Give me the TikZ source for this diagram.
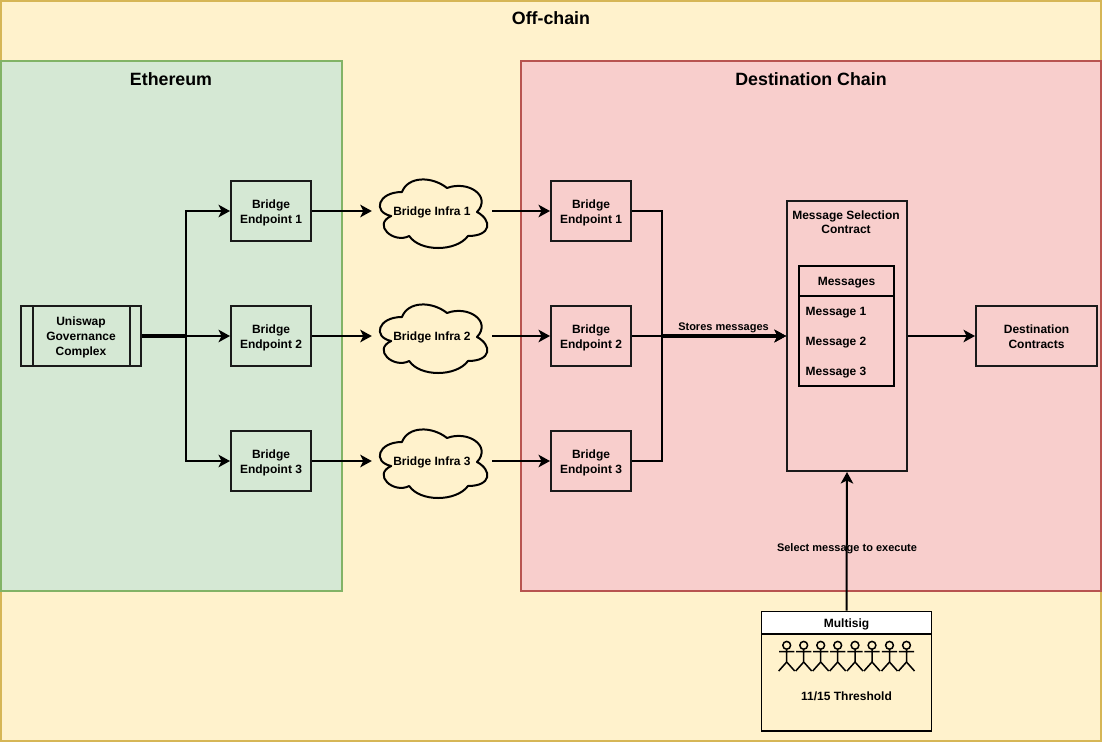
\documentclass[tikz,border=0pt]{standalone}
\usepackage{fontspec}
\setmainfont{Liberation Sans}
\usetikzlibrary{arrows.meta}
\definecolor{yfill}{HTML}{FFF2CC}\definecolor{ydraw}{HTML}{D6B656}
\definecolor{gfill}{HTML}{D5E8D4}\definecolor{gdraw}{HTML}{82B366}
\definecolor{rfill}{HTML}{F8CECC}\definecolor{rdraw}{HTML}{B85450}
\definecolor{ink}{HTML}{1A1A1A}
\tikzset{
  x=1pt,y=-1pt,
  title/.style={font=\fontsize{17.8}{21}\selectfont\bfseries,inner sep=0pt},
  labelfont/.style={font=\fontsize{12}{15}\selectfont\bfseries,align=center,inner sep=0pt},
  smallfont/.style={font=\fontsize{11}{13}\selectfont\bfseries,align=center,inner sep=0pt},
  boxst/.style={draw=ink,line width=2pt,minimum width=80pt,minimum height=60pt,labelfont,text height=25.2pt,text depth=0pt},
  arrowst/.style={draw=black,line width=2pt,-{Stealth[length=11.5pt,width=12.5pt,inset=3pt]}},
  mergeline/.style={draw=black,line width=3.1pt},
  cloudbox/.style={minimum width=120pt,minimum height=80pt,labelfont,text depth=0pt},
  thinbox/.style={draw=black,line width=1.8pt},
  actor/.style={draw=black,line width=1.5pt}
}
\newcommand{\cloudshape}[2]{%
  \draw[draw=black,line width=2pt,line join=round,shift={(#1,#2)}]
  (30,20) .. controls (6,20) and (0,40) .. (19.2,44)
  .. controls (0,52.8) and (21.6,72) .. (37.2,64)
  .. controls (48,80) and (84,80) .. (96,64)
  .. controls (120,64) and (120,48) .. (105,40)
  .. controls (120,24) and (96,8) .. (75,16)
  .. controls (60,4) and (36,4) .. (30,20) -- cycle;}
\newcommand{\actorfig}[1]{%
  \draw[actor,shift={(#1,0)}] (0,645.3) circle (3.9pt)
    (0,649.2) -- (0,662) (-7.6,651.7) -- (7.6,651.7)
    (0,662) -- (-8,671) (0,662) -- (8,671);}
\begin{document}
\begin{tikzpicture}
\useasboundingbox (0,0) rectangle (1102,742);
% zones
\filldraw[fill=yfill,draw=ydraw,line width=2pt] (1,1) rectangle (1101,741);
\node[title] (tOff) at (551,18.5) {Off-chain};
\filldraw[fill=gfill,draw=gdraw,line width=2pt] (1,61) rectangle (341.5,591);
\node[title] (tEth) at (171,79.5) {Ethereum};
\filldraw[fill=rfill,draw=rdraw,line width=2pt] (521,61) rectangle (1101,591);
\node[title] (tDst) at (811,79.5) {Destination Chain};
% governance
\node[boxst,minimum width=120pt,text height=38.8pt] (gov) at (81,336) {Uniswap\\Governance\\Complex};
\draw[draw=ink,line width=2pt] ([xshift=12.5pt]gov.north west) -- ([xshift=12.5pt]gov.south west);
\draw[draw=ink,line width=2pt] ([xshift=-12.5pt]gov.north east) -- ([xshift=-12.5pt]gov.south east);
% endpoints left
\node[boxst] (la) at (271,211) {Bridge\\Endpoint 1};
\node[boxst] (lb) at (271,336) {Bridge\\Endpoint 2};
\node[boxst] (lc) at (271,461) {Bridge\\Endpoint 3};
% clouds
\cloudshape{372}{172}\node[cloudbox] (ca) at (432,211) {Bridge Infra 1};
\cloudshape{372}{297}\node[cloudbox] (cb) at (432,336) {Bridge Infra 2};
\cloudshape{372}{422}\node[cloudbox] (cc) at (432,461) {Bridge Infra 3};
% endpoints right
\node[boxst] (ra) at (591,211) {Bridge\\Endpoint 1};
\node[boxst] (rb) at (591,336) {Bridge\\Endpoint 2};
\node[boxst] (rc) at (591,461) {Bridge\\Endpoint 3};
% contract
\node[draw=ink,line width=2pt,minimum width=120pt,minimum height=270pt] (msc) at (847,336) {};
\node[font=\fontsize{12}{14.5}\selectfont\bfseries,align=center,inner sep=0pt,anchor=north] (msct) at (846,210.5) {Message Selection\\Contract};
\node[thinbox,minimum width=95pt,minimum height=30pt,labelfont,text height=9pt,text depth=0pt] (mh) at (846.5,281) {Messages};
\node[thinbox,minimum width=95pt,minimum height=90pt] (mb) at (846.5,341) {};
\node[labelfont,anchor=west] (m1) at (805.5,312.5) {Message 1};
\node[labelfont,anchor=west] (m2) at (805.5,342.5) {Message 2};
\node[labelfont,anchor=west] (m3) at (805.5,372.5) {Message 3};
\node[boxst,minimum width=121pt] (dc) at (1036.5,336) {Destination\\Contracts};
% multisig
\node[thinbox,minimum width=170pt,minimum height=119.5pt] (ms) at (846.5,671.25) {};
\node[thinbox,fill=white,minimum width=170pt,minimum height=22.5pt,labelfont,text height=9pt,text depth=0pt] (msh) at (846.5,622.75) {Multisig};
\foreach \ax in {786.7,803.7,820.7,837.7,855,872,889.5,906.5} {\actorfig{\ax}}
\node[labelfont] (th) at (846.5,696) {11/15 Threshold};
% connectors
\coordinate (j1) at (186,336);
\draw[arrowst] (gov.east) -- (j1) |- (la.west);
\draw[arrowst] (gov.east) -- (lb.west);
\draw[arrowst] (gov.east) -- (j1) |- (lc.west);
\draw[mergeline] (gov.east) -- (j1);
\draw[arrowst] (la.east) -- (ca.west);
\draw[arrowst] (lb.east) -- (cb.west);
\draw[arrowst] (lc.east) -- (cc.west);
\draw[arrowst] (ca.east) -- (ra.west);
\draw[arrowst] (cb.east) -- (rb.west);
\draw[arrowst] (cc.east) -- (rc.west);
\coordinate (j2) at (662,336);
\coordinate (j3) at (778,336);
\draw[arrowst] (ra.east) -| (j2) -- (msc.west);
\draw[arrowst] (rb.east) -- (msc.west);
\draw[arrowst] (rc.east) -| (j2) -- (msc.west);
\draw[mergeline] (j2) -- (j3);
\draw[arrowst] (msc.east) -- (dc.west);
\draw[arrowst] (msh.north) -- (msc.south);
\node[smallfont] (lStore) at (723.5,328) {Stores messages};
\node[smallfont] (lSel) at (847,548.5) {Select message to execute};
\end{tikzpicture}
\end{document}
